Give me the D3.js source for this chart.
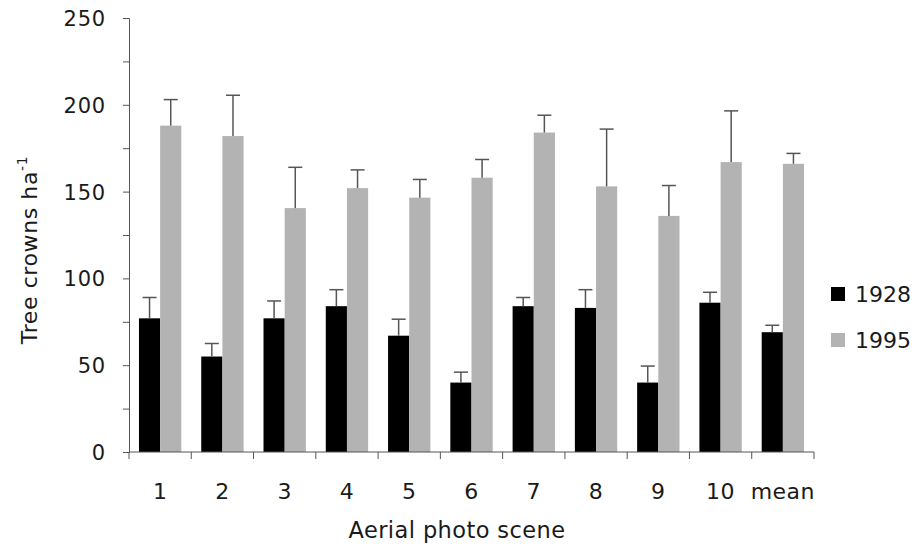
<!DOCTYPE html>
<html>
<head>
<meta charset="utf-8">
<script src="https://cdn.jsdelivr.net/npm/d3@7"></script>
<style>
  html, body { margin: 0; padding: 0; background: #fff; }
  svg { display: block; font-family: "DejaVu Sans", Verdana, sans-serif; }
</style>
</head>
<body>
<svg id="chart" width="921" height="550"></svg>
<script>
const categories = ["1","2","3","4","5","6","7","8","9","10","mean"];
const seriesNames = ["1928","1995"];
const values1928 = [77, 55, 77, 84, 67, 40, 84, 83, 40, 86, 69];
const errors1928 = [12, 7.5, 10, 9.5, 9.5, 6, 5, 10.5, 9.5, 6, 4];
const values1995 = [188, 182, 140.5, 152, 146.5, 158, 184, 153, 136, 167, 166];
const errors1995 = [15, 23.5, 23.5, 10.5, 10.5, 10.5, 10, 33, 17.5, 29.5, 6];
const yTicks = [0, 25, 50, 75, 100, 125, 150, 175, 200, 225, 250];
const yLabelTicks = [0, 50, 100, 150, 200, 250];
const colors = ["#000000", "#b3b3b3"];

const svg = d3.select("#chart");
const axisColor = "#555";
const textColor = "#1a1a1a";

const x = d3.scaleBand().domain(categories).range([129, 814]).padding(0);
const bw = x.bandwidth();
const xs = d3.scaleBand().domain(seriesNames).range([bw * 0.16, bw * 0.84]).padding(0);
const y = d3.scaleLinear().domain([0, 250]).range([452, 18]);

const data = seriesNames.map((s, i) => ({
  name: s,
  color: colors[i],
  values: categories.map((c, j) => ({
    cat: c,
    v: i === 0 ? values1928[j] : values1995[j],
    e: i === 0 ? errors1928[j] : errors1995[j]
  }))
}));

// Bars
const g = svg.append("g");
data.forEach(s => {
  g.selectAll(null).data(s.values).enter().append("rect")
    .attr("x", d => x(d.cat) + xs(s.name))
    .attr("y", d => y(d.v))
    .attr("width", xs.bandwidth())
    .attr("height", d => y(0) - y(d.v))
    .attr("fill", s.color);
  const eb = g.selectAll(null).data(s.values).enter().append("g")
    .attr("stroke", axisColor).attr("stroke-width", 1.5);
  eb.append("line")
    .attr("x1", d => x(d.cat) + xs(s.name) + xs.bandwidth() / 2)
    .attr("x2", d => x(d.cat) + xs(s.name) + xs.bandwidth() / 2)
    .attr("y1", d => y(d.v))
    .attr("y2", d => y(d.v + d.e));
  eb.append("line")
    .attr("x1", d => x(d.cat) + xs(s.name) + xs.bandwidth() / 2 - 7)
    .attr("x2", d => x(d.cat) + xs(s.name) + xs.bandwidth() / 2 + 7)
    .attr("y1", d => y(d.v + d.e))
    .attr("y2", d => y(d.v + d.e));
});

// Y axis
const yAxis = d3.axisLeft(y).tickValues(yTicks).tickSize(6).tickSizeOuter(6)
  .tickFormat(d => yLabelTicks.includes(d) ? d : "");
const yg = svg.append("g").attr("transform", "translate(129,0)").call(yAxis);
yg.select(".domain").attr("stroke", axisColor).attr("stroke-width", 1);
yg.selectAll(".tick line").attr("stroke", axisColor);
yg.selectAll(".tick text").attr("font-size", 21).attr("fill", textColor)
  .attr("letter-spacing", 0.8)
  .attr("font-family", "DejaVu Sans, sans-serif").attr("x", -23).attr("dy", "0.36em");

// X axis
const xBoundaries = categories.map(c => x(c)).concat([x(categories[categories.length - 1]) + bw]);
const xg = svg.append("g");
xg.append("line").attr("x1", 129).attr("x2", 814).attr("y1", y(0)).attr("y2", y(0))
  .attr("stroke", axisColor).attr("stroke-width", 1);
xg.selectAll(null).data(xBoundaries).enter().append("line")
  .attr("x1", d => d).attr("x2", d => d)
  .attr("y1", y(0)).attr("y2", y(0) + 7)
  .attr("stroke", axisColor).attr("stroke-width", 1);
xg.selectAll(null).data(categories).enter().append("text")
  .attr("x", d => x(d) + bw / 2)
  .attr("y", 499)
  .attr("text-anchor", "middle")
  .attr("font-size", 22)
  .attr("letter-spacing", 0.5)
  .attr("fill", textColor)
  .text(d => d);

// Axis titles
svg.append("text")
  .attr("x", 457).attr("y", 538)
  .attr("text-anchor", "middle")
  .attr("font-size", 22.5)
  .attr("letter-spacing", 0.4)
  .attr("fill", textColor)
  .text("Aerial photo scene");

const yt = svg.append("text")
  .attr("transform", "translate(37,250) rotate(-90)")
  .attr("text-anchor", "middle")
  .attr("font-size", 22)
  .attr("letter-spacing", 0.6)
  .attr("fill", textColor);
yt.append("tspan").text("Tree crowns ha");
yt.append("tspan").attr("font-size", 14).attr("dy", -10).text("-1");

// Legend
const leg = svg.append("g");
data.forEach((s, i) => {
  const yy = 287 + i * 46;
  leg.append("rect").attr("x", 831).attr("y", yy).attr("width", 14).attr("height", 14).attr("fill", s.color);
  leg.append("text").attr("x", 855).attr("y", yy + 15).attr("font-size", 22).attr("fill", textColor).text(s.name);
});
</script>
</body>
</html>
